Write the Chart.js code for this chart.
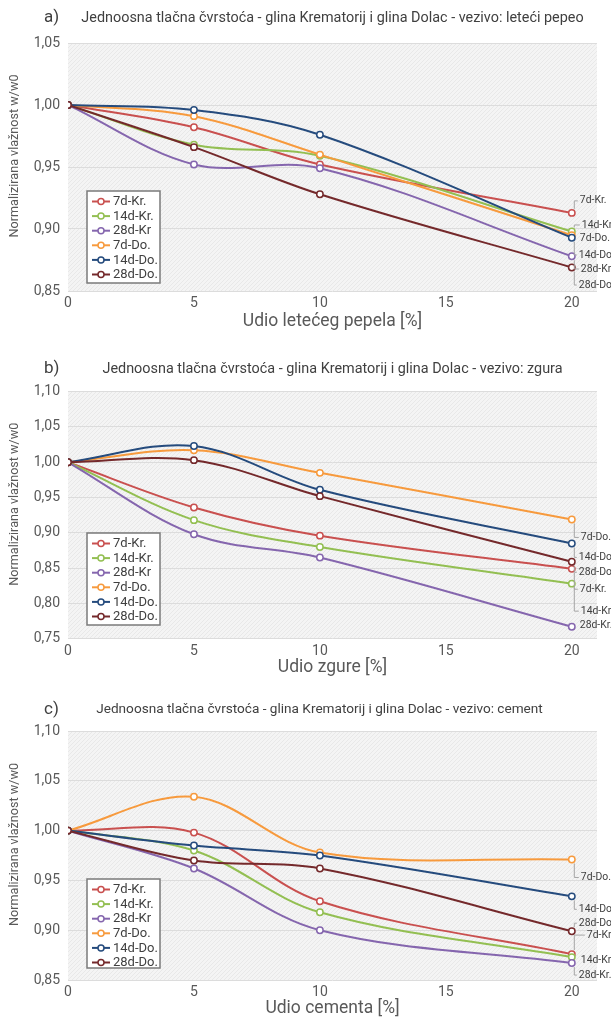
<!DOCTYPE html>
<html>
<head>
<meta charset="utf-8">
<title>Jednoosna tlačna čvrstoća - normalizirana vlažnost</title>
<script src="https://cdn.jsdelivr.net/npm/chart.js@4/dist/chart.umd.min.js"></script>
<style>
  html, body { margin: 0; padding: 0; background: #ffffff; }
  .panel { position: absolute; left: 0; width: 611px; height: 340px; }
  canvas { display: block; }
</style>
</head>
<body>
<div class="panel" style="top:0px"><canvas id="chartFlyAsh" width="611" height="340"></canvas></div>
<div class="panel" style="top:340px"><canvas id="chartSlag" width="611" height="340"></canvas></div>
<div class="panel" style="top:680px"><canvas id="chartCement" width="611" height="340"></canvas></div>

<script>
// Binder content on the x axis (%)
const additivePercent = [0, 5, 10, 20];

// Series: curing time (7/14/28 days) and clay (Kr. = Krematorij, Do. = Dolac)
const seriesNames = ['7d-Kr.', '14d-Kr.', '28d-Kr', '7d-Do.', '14d-Do.', '28d-Do.'];

// a) binder: fly ash — normalized moisture w/w0, one row per series
const flyAshRatios = [
  [1.000, 0.982, 0.952, 0.913],
  [1.000, 0.968, 0.959, 0.898],
  [1.000, 0.952, 0.949, 0.878],
  [1.000, 0.991, 0.960, 0.895],
  [1.000, 0.996, 0.976, 0.893],
  [1.000, 0.966, 0.928, 0.869]
];

// b) binder: slag
const slagRatios = [
  [1.000, 0.936, 0.896, 0.849],
  [1.000, 0.918, 0.880, 0.828],
  [1.000, 0.898, 0.865, 0.767],
  [1.000, 1.017, 0.985, 0.919],
  [1.000, 1.023, 0.961, 0.885],
  [1.000, 1.003, 0.952, 0.859]
];

// c) binder: cement
const cementRatios = [
  [1.000, 0.998, 0.929, 0.876],
  [1.000, 0.980, 0.918, 0.873],
  [1.000, 0.962, 0.900, 0.867],
  [1.000, 1.034, 0.978, 0.971],
  [1.000, 0.985, 0.975, 0.934],
  [1.000, 0.970, 0.962, 0.899]
];

// Labels written next to the last point of each series
const flyAshEndLabels = ['7d-Kr.', '14d-Kr', '28d-Kr.', '7d-Do.', '14d-Do', '28d-Do'];
const slagEndLabels   = ['7d-Kr.', '14d-Kr', '28d-Kr.', '7d-Do.', '14d-Do', '28d-Do'];
const cementEndLabels = ['7d-Kr', '14d-Kr.', '28d-Kr.', '7d-Do.', '14d-Do', '28d-Do'];

const yAxisTitle = 'Normalizirana vlažnost w/w0';

// ---- styling ----
const lineColors = ['#c9504f', '#93bf52', '#8566ae', '#f79a3d', '#254b7d', '#74292b'];
const textColor = '#404040';
const tickColor = '#595959';
const FONT = 'Roboto, "Noto Sans", "DejaVu Sans", sans-serif';

Chart.defaults.font.family = FONT;
Chart.defaults.color = tickColor;

function hatchPattern(ctx) {
  const c = document.createElement('canvas');
  c.width = 4; c.height = 4;
  const g = c.getContext('2d');
  g.fillStyle = '#f4f4f4';
  g.fillRect(0, 0, 4, 4);
  g.fillStyle = '#e8e8e8';
  for (let i = 0; i < 4; i++) g.fillRect(i, 3 - i, 1, 1);
  return ctx.createPattern(c, 'repeat');
}

// Plot background, panel heading, y title, in-plot legend and end-of-line labels
const panelDecor = {
  id: 'panelDecor',
  beforeDraw(chart) {
    const { ctx, chartArea: a } = chart;
    ctx.save();
    ctx.fillStyle = hatchPattern(ctx);
    ctx.fillRect(a.left, a.top, a.right - a.left, a.bottom - a.top);
    ctx.restore();
  },
  afterDraw(chart, args, opts) {
    const { ctx, chartArea: a } = chart;
    ctx.save();

    // heading
    ctx.fillStyle = textColor;
    ctx.textBaseline = 'middle';
    ctx.textAlign = 'left';
    ctx.font = '17px ' + FONT;
    ctx.fillText(opts.tag, 44, opts.titleY);
    ctx.font = opts.titleSize + 'px ' + FONT;
    ctx.textAlign = 'center';
    ctx.fillText(opts.title, (a.left + a.right) / 2 + opts.titleShift, opts.titleY);

    // rotated y-axis title, sitting a little above the plot's middle
    ctx.save();
    ctx.translate(15, (a.top + a.bottom) / 2 - 11);
    ctx.rotate(-Math.PI / 2);
    ctx.font = '12.6px ' + FONT;
    ctx.fillStyle = tickColor;
    ctx.textAlign = 'center';
    ctx.fillText(yAxisTitle, 0, 0);
    ctx.restore();

    // end-of-line labels with leader lines
    ctx.font = '10.4px ' + FONT;
    ctx.textAlign = 'left';
    chart.data.datasets.forEach((ds, i) => {
      const meta = chart.getDatasetMeta(i);
      const pt = meta.data[meta.data.length - 1];
      const [dx, dy] = opts.endOffsets[i];
      const lx = pt.x + dx, ly = pt.y + dy;
      if (Math.abs(dy) > 5) {
        const s = dy > 0 ? 1 : -1;
        ctx.strokeStyle = '#a6a6a6';
        ctx.lineWidth = 1;
        ctx.beginPath();
        ctx.moveTo(pt.x + 2.5, pt.y + s * 4);
        ctx.lineTo(pt.x + 2.5, ly);
        ctx.lineTo(lx - 2, ly);
        ctx.stroke();
      }
      ctx.fillStyle = textColor;
      ctx.fillText(opts.endLabels[i], lx, ly);
    });

    // legend box
    const L = opts.legend;
    ctx.fillStyle = '#ffffff';
    ctx.fillRect(L.x, L.y, L.w, L.h);
    ctx.strokeStyle = '#7a7a7a';
    ctx.lineWidth = 1.5;
    ctx.strokeRect(L.x, L.y, L.w, L.h);
    ctx.font = '13px ' + FONT;
    chart.data.datasets.forEach((ds, i) => {
      const cy = L.y + 10.5 + i * 14.6;
      ctx.strokeStyle = ds.borderColor;
      ctx.lineWidth = 2;
      ctx.beginPath();
      ctx.moveTo(L.x + 5, cy);
      ctx.lineTo(L.x + 23, cy);
      ctx.stroke();
      ctx.beginPath();
      ctx.arc(L.x + 14, cy, 3, 0, Math.PI * 2);
      ctx.fillStyle = '#ffffff';
      ctx.fill();
      ctx.lineWidth = 1.5;
      ctx.stroke();
      ctx.fillStyle = textColor;
      ctx.textAlign = 'left';
      ctx.fillText(ds.label, L.x + 26, cy + 0.5);
    });
    ctx.restore();
  }
};

function fmtComma(v) { return v.toFixed(2).replace('.', ','); }

function buildChart(id, rows, p) {
  const datasets = rows.map((vals, i) => ({
    label: seriesNames[i],
    data: additivePercent.map((x, k) => ({ x: x, y: vals[k] })),
    borderColor: lineColors[i],
    backgroundColor: '#ffffff',
    pointBackgroundColor: '#ffffff',
    pointBorderColor: lineColors[i],
    pointBorderWidth: 1.5,
    pointRadius: 3.2,
    borderWidth: 2,
    tension: 0.35,
    order: rows.length - i
  }));

  return new Chart(document.getElementById(id), {
    type: 'line',
    data: { datasets },
    options: {
      responsive: false,
      animation: false,
      layout: { padding: { left: 0, top: p.top, right: 14, bottom: 0 } },
      plugins: {
        legend: { display: false },
        tooltip: { enabled: false },
        panelDecor: {
          tag: p.tag, title: p.title, titleY: p.titleY,
          titleSize: p.titleSize, titleShift: p.titleShift,
          endLabels: p.endLabels, endOffsets: p.endOffsets, legend: p.legend
        }
      },
      scales: {
        x: {
          type: 'linear',
          min: 0, max: 21,
          grid: { display: false, drawTicks: false },
          border: { display: false },
          ticks: {
            stepSize: 5, includeBounds: false, padding: p.xTickPad,
            color: tickColor, font: { size: 14 }
          },
          title: {
            display: true, text: p.xTitle, color: tickColor,
            font: { size: 17.5 }, padding: { top: 0, bottom: p.xTitlePad }
          },
          afterFit(scale) { scale.height = p.xAxisHeight; }
        },
        y: {
          min: p.yMin, max: p.yMax,
          grid: { color: '#dcdcdc', lineWidth: 1, drawTicks: false },
          border: { display: false },
          ticks: {
            stepSize: 0.05, padding: 8, color: tickColor, font: { size: 14 },
            callback: (v) => fmtComma(v)
          },
          afterFit(scale) { scale.width = 68; }
        }
      }
    },
    plugins: [panelDecor]
  });
}

buildChart('chartFlyAsh', flyAshRatios, {
  tag: 'a)',
  title: 'Jednoosna tlačna čvrstoća - glina Krematorij i glina Dolac - vezivo: leteći pepeo',
  titleY: 18, titleSize: 14.4, titleShift: 0,
  top: 43, xAxisHeight: 49, xTickPad: 4, xTitlePad: 7.5,
  yMin: 0.85, yMax: 1.05,
  xTitle: 'Udio letećeg pepela [%]',
  endLabels: flyAshEndLabels,
  endOffsets: [[8, -12], [10, -6.5], [9, 12.7], [8, 2.8], [7, 17.3], [7, 17.6]],
  legend: { x: 87, y: 191, w: 73, h: 92 }
});

buildChart('chartSlag', slagRatios, {
  tag: 'b)',
  title: 'Jednoosna tlačna čvrstoća - glina Krematorij i glina Dolac - vezivo: zgura',
  titleY: 29, titleSize: 14.4, titleShift: 0,
  top: 51.7, xAxisHeight: 41.3, xTickPad: 4, xTitlePad: 2,
  yMin: 0.75, yMax: 1.10,
  xTitle: 'Udio zgure [%]',
  endLabels: slagEndLabels,
  endOffsets: [[8, 20.4], [9, 27.5], [8, -1.7], [9, 18], [7, 14], [7, 10.5]],
  legend: { x: 87, y: 193, w: 73, h: 92 }
});

buildChart('chartCement', cementRatios, {
  tag: 'c)',
  title: 'Jednoosna tlačna čvrstoća - glina Krematorij i glina Dolac - vezivo: cement',
  titleY: 30, titleSize: 13.6, titleShift: -13,
  top: 51, xAxisHeight: 40, xTickPad: 4, xTitlePad: 0.5,
  yMin: 0.85, yMax: 1.10,
  xTitle: 'Udio cementa [%]',
  endLabels: cementEndLabels,
  endOffsets: [[15, -19], [9, 3], [7, 12], [9, 18], [7, 13], [7, -8]],
  legend: { x: 87, y: 199, w: 73, h: 89 }
});
</script>
</body>
</html>
